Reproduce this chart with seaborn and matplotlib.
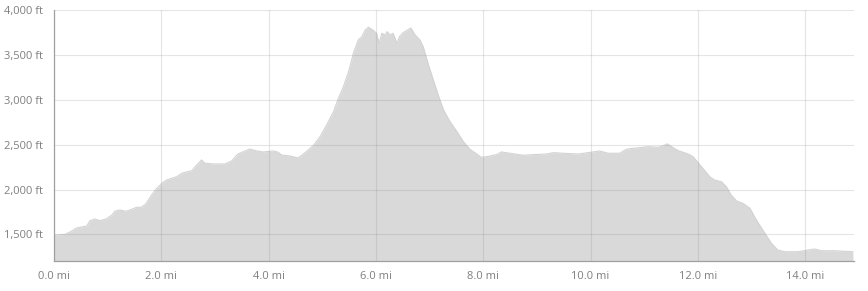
import matplotlib
matplotlib.use("Agg")
import matplotlib.pyplot as plt
import seaborn as sns
import numpy as np
import pandas as pd

# distance along trail (miles)
distance_mi = [0.00, 0.21, 0.33, 0.42, 0.61, 0.67, 0.76, 0.86, 0.98, 1.08, 1.14, 1.23,
               1.34, 1.45, 1.54, 1.63, 1.71, 1.82, 1.91, 2.01, 2.10, 2.29, 2.38, 2.47,
               2.57, 2.66, 2.75, 2.81, 2.97, 3.19, 3.31, 3.42, 3.53, 3.65, 3.78, 3.90,
               4.09, 4.18, 4.24, 4.40, 4.55, 4.68, 4.83, 4.96, 5.08, 5.21, 5.30, 5.39,
               5.49, 5.58, 5.67, 5.74, 5.80, 5.86, 5.94, 6.01, 6.06, 6.11, 6.17, 6.21,
               6.26, 6.32, 6.39, 6.44, 6.51, 6.57, 6.65, 6.73, 6.82, 6.88, 6.98, 7.07,
               7.16, 7.26, 7.38, 7.51, 7.63, 7.75, 7.88, 7.96, 8.07, 8.25, 8.34, 8.50,
               8.75, 8.93, 9.18, 9.31, 9.49, 9.77, 9.95, 10.17, 10.33, 10.54, 10.67, 10.79,
               10.92, 11.07, 11.26, 11.35, 11.43, 11.51, 11.63, 11.82, 11.91, 12.04, 12.13,
               12.22, 12.31, 12.44, 12.53, 12.62, 12.72, 12.84, 12.97, 13.09, 13.25, 13.37,
               13.49, 13.62, 13.87, 14.05, 14.18, 14.30, 14.55, 14.74, 14.89]

# elevation (feet)
elevation_ft = [1490, 1500, 1538, 1572, 1594, 1653, 1672, 1653, 1675, 1717, 1761, 1772,
                1758, 1780, 1803, 1803, 1840, 1940, 2010, 2070, 2107, 2144, 2182, 2197,
                2211, 2275, 2331, 2294, 2286, 2286, 2319, 2394, 2423, 2453, 2431, 2420,
                2431, 2416, 2386, 2375, 2353, 2412, 2490, 2590, 2721, 2870, 3019, 3142,
                3316, 3521, 3670, 3707, 3781, 3811, 3781, 3744, 3632, 3744, 3725, 3762,
                3725, 3744, 3632, 3707, 3752, 3773, 3803, 3725, 3670, 3595, 3391, 3223,
                3056, 2888, 2758, 2646, 2535, 2450, 2397, 2360, 2368, 2390, 2420, 2405,
                2383, 2390, 2397, 2412, 2405, 2397, 2412, 2431, 2405, 2405, 2450, 2461,
                2468, 2479, 2472, 2487, 2510, 2479, 2435, 2397, 2368, 2275, 2211,
                2144, 2107, 2088, 2033, 1940, 1873, 1847, 1792, 1661, 1512, 1401,
                1326, 1307, 1307, 1326, 1337, 1318, 1318, 1311, 1307]

x_ticks = [0, 2, 4, 6, 8, 10, 12, 14]
x_tick_labels = ["0.0 mi", "2.0 mi", "4.0 mi", "6.0 mi", "8.0 mi", "10.0 mi", "12.0 mi", "14.0 mi"]
y_ticks = [1500, 2000, 2500, 3000, 3500, 4000]
y_tick_labels = ["1,500 ft", "2,000 ft", "2,500 ft", "3,000 ft", "3,500 ft", "4,000 ft"]

df = pd.DataFrame({"distance": distance_mi, "elevation": elevation_ft})

sns.set_theme(style="white")
plt.rcParams["font.family"] = ["Open Sans", "DejaVu Sans"]

fig = plt.figure(figsize=(8.68, 2.91), dpi=100)
ax = fig.add_axes([54 / 868, 1 - 261.3 / 291, (854 - 54) / 868, (261.3 - 10.3) / 291])

fill_color = "#d9d9d9"
ymin, ymax = 1200, 4000
xmax = 14.91
ax.fill_between(df["distance"], df["elevation"], ymin, color=fill_color, linewidth=0, zorder=1)
sns.lineplot(data=df, x="distance", y="elevation", ax=ax, color="#d3d3d3", linewidth=0.8, zorder=2)

ax.set_xlim(0, xmax)
ax.set_ylim(ymin, ymax)

ax.set_xticks(x_ticks)
ax.set_xticklabels(x_tick_labels)
ax.set_yticks(y_ticks)
ax.set_yticklabels(y_tick_labels)
ax.set_xlabel("")
ax.set_ylabel("")

ax.tick_params(axis="both", which="major", length=0, labelsize=8, labelcolor="#7f7f7f")
ax.tick_params(axis="x", which="major", pad=7)
ax.tick_params(axis="y", which="major", pad=8)
ax.set_xticks([0, xmax], minor=True)
ax.set_yticks([ymin, ymax], minor=True)
ax.tick_params(axis="both", which="minor", length=4, width=0.8, color="#a0a0a0")

ax.grid(True, which="major", color="#808080", alpha=0.2, linewidth=0.8)
ax.set_axisbelow(False)

for side in ["top", "right"]:
    ax.spines[side].set_visible(False)
for side in ["left", "bottom"]:
    ax.spines[side].set_color("#a0a0a0")
    ax.spines[side].set_linewidth(0.9)
    ax.spines[side].set_zorder(5)

fig.savefig("out.png", dpi=100, facecolor="white")
